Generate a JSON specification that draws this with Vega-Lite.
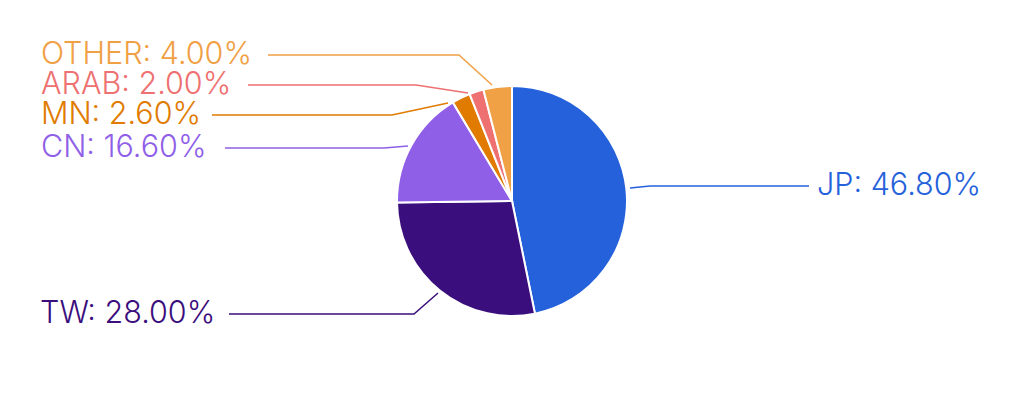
{
  "$schema": "https://vega.github.io/schema/vega-lite/v6.json",
  "width": 1024,
  "height": 402,
  "autosize": {"type": "fit", "contains": "padding"},
  "padding": 0,
  "background": "#ffffff",
  "config": {"view": {"stroke": null}},
  "datasets": {
    "slices": [
      {"name": "JP", "value": 46.8, "idx": 1},
      {"name": "TW", "value": 28.0, "idx": 2},
      {"name": "CN", "value": 16.6, "idx": 3},
      {"name": "MN", "value": 2.6, "idx": 4},
      {"name": "ARAB", "value": 2.0, "idx": 5},
      {"name": "OTHER", "value": 4.0, "idx": 6}
    ],
    "leaders": [
      {"name": "JP", "seq": 1, "x": 118, "y": 13},
      {"name": "JP", "seq": 2, "x": 138, "y": 15},
      {"name": "JP", "seq": 3, "x": 297, "y": 15},
      {"name": "TW", "seq": 1, "x": -283, "y": -113},
      {"name": "TW", "seq": 2, "x": -98, "y": -113},
      {"name": "TW", "seq": 3, "x": -74, "y": -92},
      {"name": "CN", "seq": 1, "x": -287, "y": 53},
      {"name": "CN", "seq": 2, "x": -128, "y": 53},
      {"name": "CN", "seq": 3, "x": -104, "y": 55},
      {"name": "MN", "seq": 1, "x": -300, "y": 86},
      {"name": "MN", "seq": 2, "x": -120, "y": 86},
      {"name": "MN", "seq": 3, "x": -64, "y": 98},
      {"name": "ARAB", "seq": 1, "x": -264, "y": 116},
      {"name": "ARAB", "seq": 2, "x": -96, "y": 116},
      {"name": "ARAB", "seq": 3, "x": -44, "y": 108},
      {"name": "OTHER", "seq": 1, "x": -244, "y": 146},
      {"name": "OTHER", "seq": 2, "x": -53, "y": 146},
      {"name": "OTHER", "seq": 3, "x": -20, "y": 116}
    ],
    "labels": [
      {"name": "JP", "label": "JP: 46.80%", "x": 305, "y": 15},
      {"name": "TW", "label": "TW: 28.00%", "x": -472, "y": -113},
      {"name": "CN", "label": "CN: 16.60%", "x": -471, "y": 53},
      {"name": "MN", "label": "MN: 2.60%", "x": -471, "y": 86},
      {"name": "ARAB", "label": "ARAB: 2.00%", "x": -471, "y": 116},
      {"name": "OTHER", "label": "OTHER: 4.00%", "x": -471, "y": 146}
    ]
  },
  "layer": [
    {
      "data": {"name": "slices"},
      "mark": {"type": "arc", "outerRadius": 115, "stroke": "#ffffff", "strokeWidth": 2},
      "encoding": {
        "theta": {"field": "value", "type": "quantitative", "stack": true},
        "order": {"field": "idx", "type": "quantitative"},
        "color": {
          "field": "name", "type": "nominal",
          "scale": {"domain": ["JP", "TW", "CN", "MN", "ARAB", "OTHER"], "range": ["#2461DB", "#3A0E7C", "#8F5FE8", "#E07B00", "#EE7070", "#F0A045"]},
          "legend": null
        }
      }
    },
    {
      "data": {"name": "leaders"},
      "mark": {"type": "line", "strokeWidth": 1.5, "interpolate": "linear"},
      "encoding": {
        "x": {"field": "x", "type": "quantitative", "scale": {"domain": [-512, 512], "nice": false, "zero": false}, "axis": null},
        "y": {"field": "y", "type": "quantitative", "scale": {"domain": [-201, 201], "nice": false, "zero": false}, "axis": null},
        "detail": {"field": "name"},
        "order": {"field": "seq", "type": "quantitative"},
        "color": {"field": "name", "type": "nominal", "legend": null}
      }
    },
    {
      "data": {"name": "labels"},
      "mark": {"type": "text", "align": "left", "baseline": "middle", "font": "Inter", "fontSize": 30.5, "fontWeight": 300},
      "encoding": {
        "x": {"field": "x", "type": "quantitative"},
        "y": {"field": "y", "type": "quantitative"},
        "text": {"field": "label"},
        "color": {"field": "name", "type": "nominal", "legend": null}
      }
    }
  ]
}
